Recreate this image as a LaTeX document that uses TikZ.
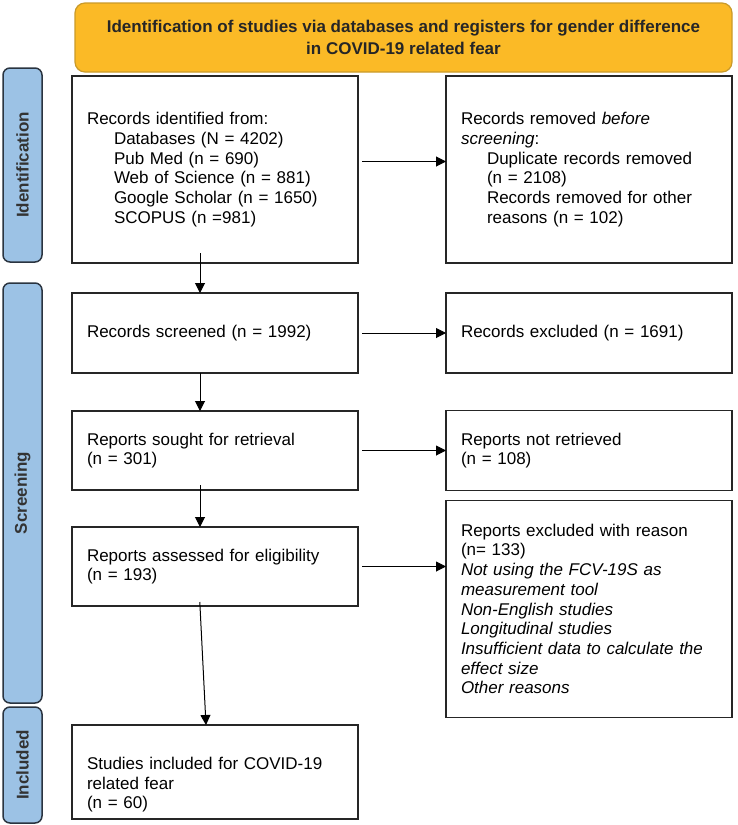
\documentclass[tikz,border=0pt]{standalone}
\usepackage{fontspec}
\setmainfont{Liberation Sans}
\usetikzlibrary{positioning,arrows.meta}
\definecolor{titlefill}{HTML}{FBBA26}
\definecolor{titledraw}{HTML}{C99A2A}
\definecolor{phasefill}{HTML}{9CC2E5}
\definecolor{phasedraw}{HTML}{2A3440}

\begin{document}
\begin{tikzpicture}[x=1pt, y=-1pt,
			box/.style={rectangle, draw=black!85, line width=1.6pt, outer sep=0pt, text width=256pt, inner xsep=15pt, inner ysep=0pt, align=left, font=\fontsize{17}{19.7}\selectfont},
			phase/.style={rectangle, rounded corners=7pt, draw=phasedraw, fill=phasefill, line width=1.5pt, minimum height=39pt, rotate=90, text=black!80, font=\bfseries\fontsize{17}{20}\selectfont},
			heading/.style={rectangle, rounded corners=10pt, draw=titledraw, fill=titlefill, line width=1.2pt, minimum width=657pt, minimum height=69pt, align=center, text=black!85, font=\bfseries\fontsize{17}{22}\selectfont}]
			\useasboundingbox (0,0) rectangle (738,825);
			\node[heading] (title) at (403.5,37.5) {Identification of studies via databases and registers for gender difference\\in COVID-19 related fear};
			\node[phase, minimum width=194pt] (ident) at (22.5,165) {Identification};
			\node[phase, minimum width=420pt] (screen) at (22.5,493) {Screening};
			\node[phase, minimum width=116pt] (incl) at (22.5,765) {Included};
			\node[box, minimum height=187pt] (recid) at (215,169.5) {Records identified from:\\
				\hspace*{27pt}Databases (N = 4202)\\
				\hspace*{27pt}Pub Med (n = 690)\\
				\hspace*{27pt}Web of Science (n = 881)\\
				\hspace*{27pt}Google Scholar (n = 1650)\\
				\hspace*{27pt}SCOPUS (n =981)};
			\node[box, minimum height=187pt] (recrem) [right=88pt of recid] {Records removed \textit{before}\\
				\textit{screening}:\\
				\hspace*{26pt}Duplicate records removed\\
				\hspace*{26pt}(n = 2108)\\
				\hspace*{26pt}Records removed for other\\
				\hspace*{26pt}reasons (n = 102)};
			\node[box, minimum height=80pt] (recscr) [below=30pt of recid] {Records screened (n = 1992)};
			\node[box, minimum height=80pt] (recexc) [right=88pt of recscr] {Records excluded (n = 1691)};
			\node[box, minimum height=79pt] (repsought) [below=38pt of recscr] {Reports sought for retrieval\\(n = 301)};
			\node[box, minimum height=80pt] (repnot) [right=88pt of repsought] {Reports not retrieved\\(n = 108)};
			\node[box, minimum height=79pt] (repass) [below=37pt of repsought] {Reports assessed for eligibility\\(n = 193)};
			\node[box, minimum height=217pt] (repexc) [below=10pt of repnot] {Reports excluded with reason\\
				(n= 133)\\
				\textit{Not using the FCV-19S as}\\
				\textit{measurement tool}\\
				\textit{Non-English studies}\\
				\textit{Longitudinal studies}\\
				\textit{Insufficient data to calculate the}\\
				\textit{effect size}\\
				\textit{Other reasons}};
			\node[box, minimum height=94pt] (studinc) [below=119pt of repass] {\rule{0pt}{38pt}Studies included for COVID-19\\related fear\\(n = 60)};
			\begin{scope}[line width=1pt, -{Triangle[length=10pt,width=10pt]}]
				\draw[shorten <=4pt] ([yshift=8pt]recid.east) -- ([yshift=8pt]recrem.west);
				\draw[shorten <=4pt] (recscr.east) -- (recexc.west);
				\draw[shorten <=4pt] (repsought.east) -- (repsought.east -| repnot.west);
				\draw[shorten <=4pt] (repass.east) -- (repass.east -| repexc.west);
				\draw[shorten <=-10pt] ([xshift=-15pt]recid.south) -- ([xshift=-15pt]recscr.north);
				\draw ([xshift=-15pt]recscr.south) -- ([xshift=-15pt]repsought.north);
				\draw[shorten <=-5pt] ([xshift=-15pt]repsought.south) -- ([xshift=-15pt]repass.north);
				\draw[shorten <=-4pt] ([xshift=-15pt]repass.south) -- ([xshift=-9pt]studinc.north);
			\end{scope}
		\end{tikzpicture}
\end{document}
